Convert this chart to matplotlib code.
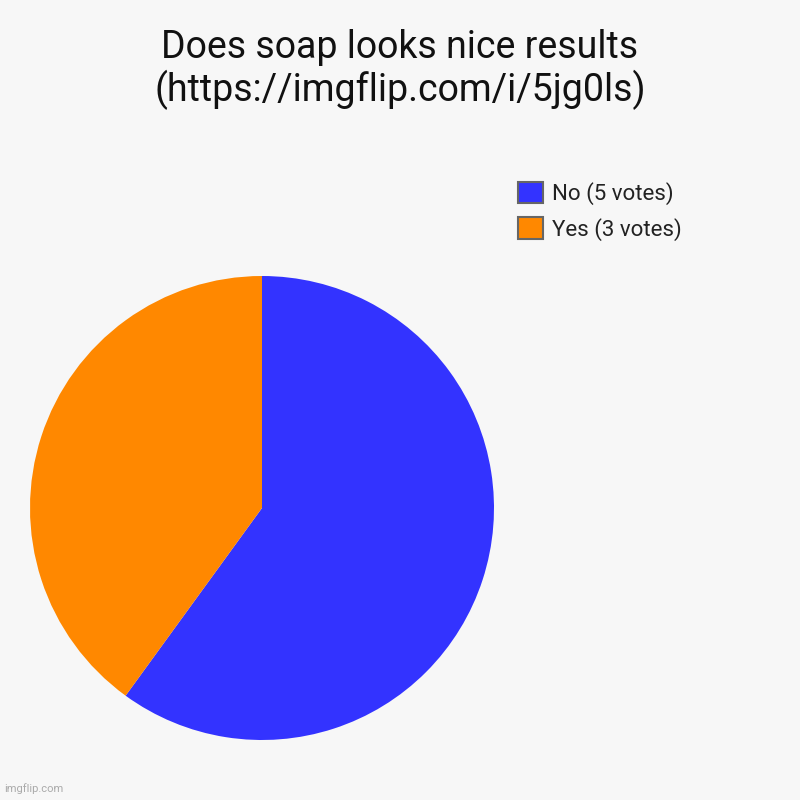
import matplotlib.pyplot as plt
from matplotlib.patches import Patch

labels = ["No (5 votes)", "Yes (3 votes)"]
# slice shares as drawn in the picture (the "No" wedge spans about 216 degrees)
shares = [60, 40]
colors = ["#3333ff", "#ff8800"]
title = "Does soap looks nice results\n(https://imgflip.com/i/5jg0ls)"

plt.rcParams['font.family'] = ['Roboto', 'DejaVu Sans']

fig = plt.figure(figsize=(8, 8), dpi=100)
fig.patch.set_facecolor("#f7f7f7")

ax = fig.add_axes([0.0375, 0.075, 0.58, 0.58])
ax.pie(shares, colors=colors, startangle=90, counterclock=False,
       wedgeprops={"linewidth": 0})
ax.set_xlim(-1, 1)
ax.set_ylim(-1, 1)
ax.set_aspect("equal")

fig.text(0.5, 0.913, title, ha="center", va="center", fontsize=27,
         color="#111111", linespacing=1.1)

handles = [Patch(facecolor=c, edgecolor="#666666", linewidth=1.5) for c in colors]
fig.legend(handles, labels, loc="upper left", bbox_to_anchor=(0.637, 0.784),
           frameon=False, fontsize=16, handlelength=1.1, handleheight=1.1,
           handletextpad=0.4, labelspacing=0.55, borderaxespad=0,
           labelcolor="#222222")

fig.text(0.005, 0.01, "imgflip.com", fontsize=8, color="#aaaaaa")

fig.savefig("out.png", dpi=100, facecolor=fig.get_facecolor())
